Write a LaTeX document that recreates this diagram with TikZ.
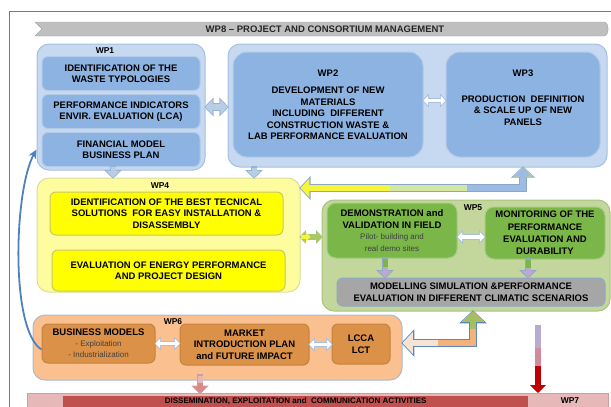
\documentclass[tikz,border=0pt]{standalone}
\usepackage{fontspec}
\setmainfont{Liberation Sans}
\usetikzlibrary{arrows.meta,positioning,calc}

\definecolor{frameblue}{HTML}{4F81BD}
\definecolor{bannergray}{HTML}{BFBFBF}
\definecolor{bannerline}{HTML}{A6A6A6}
\definecolor{paleblue}{HTML}{C6D9F1}
\definecolor{paleblueline}{HTML}{A7C0E0}
\definecolor{midblue}{HTML}{8DB3E2}
\definecolor{midblueline}{HTML}{B3CAE8}
\definecolor{paleyellow}{HTML}{FDFDA0}
\definecolor{paleyellowline}{HTML}{DCDC9C}
\definecolor{brightyellow}{HTML}{FFFF00}
\definecolor{brightyellowline}{HTML}{C8C864}
\definecolor{olivegreen}{HTML}{C3D69B}
\definecolor{olivegreenline}{HTML}{A9C47F}
\definecolor{leafgreen}{HTML}{7AB648}
\definecolor{leafgreenline}{HTML}{A3CB84}
\definecolor{boxgray}{HTML}{A6A6A6}
\definecolor{boxgrayline}{HTML}{8EA9C8}
\definecolor{paleorange}{HTML}{FAC090}
\definecolor{paleorangeline}{HTML}{A9BAD4}
\definecolor{darkorange}{HTML}{DC9148}
\definecolor{darkorangeline}{HTML}{C3823F}
\definecolor{pinkbar}{HTML}{E6B9B8}
\definecolor{pinkbarline}{HTML}{D79A98}
\definecolor{redbar}{HTML}{C0504D}
\definecolor{arrowblue}{HTML}{B9CDE5}
\definecolor{arrowblueline}{HTML}{95B3D7}
\definecolor{hollowline}{HTML}{A9BFDC}
\definecolor{lavender}{HTML}{B9ABD0}
\definecolor{mauve}{HTML}{D08A9E}
\definecolor{darkred}{HTML}{C00000}
\definecolor{notegray}{HTML}{404040}
\definecolor{yellowarrow}{HTML}{F5F53C}
\definecolor{paleleaf}{HTML}{D3E6A4}
\definecolor{bentblue}{HTML}{9DBCE3}
\definecolor{bentline}{HTML}{8CA6C8}
\definecolor{paleorangearrow}{HTML}{F6E3D3}
\definecolor{orangearrow}{HTML}{F2B27A}
\definecolor{greenarrow}{HTML}{A4BE62}
\definecolor{bentlineB}{HTML}{5F86BC}
\definecolor{pinkarrow}{HTML}{D98A88}
\definecolor{pinkarrowline}{HTML}{CDA0A0}
\definecolor{greenyellow}{HTML}{A9CA62}

\tikzset{
  every node/.style={font=\fontsize{9.5}{11.5}\selectfont\bfseries, align=center, inner sep=1pt},
  wpgroup/.style 2 args={draw=#2, fill=#1, line width=1pt, rounded corners=12pt},
  wptask/.style 2 args={draw=#2, fill=#1, line width=1pt, rounded corners=6pt},
  wplabel/.style={font=\fontsize{8.5}{10}\selectfont\bfseries},
  fat/.style n args={3}{draw=#2, line width=#1, preaction={draw=#3, line width=#1+1.6pt, shorten <=-1.2pt, shorten >=-1.2pt}},
  fatfill/.style 2 args={draw=#2, line width=#1},
  bighead/.style={>={Triangle[length=0pt 1.6, width=0pt 3.3]}},
}
\newcommand{\subnote}[1]{{\fontsize{8}{11}\selectfont\mdseries\color{notegray}#1}}

\begin{document}
\begin{tikzpicture}[x=1pt, y=-1pt, node distance=38pt,
    >={Triangle[length=0pt 1.3, width=0pt 2.6]}]
  \useasboundingbox (0,0) rectangle (611,407);

  % frame and WP8
  \draw[frameblue, line width=1pt] (611,11) -- (9,11) -- (9,407);
  \filldraw[fill=bannergray, draw=bannerline] (35,22) -- (604,22) to[out=0, in=0] (604,36) -- (35,36) -- (42,29) -- cycle;
  \node[text=black!85] (WP8) at (325,29) {WP8 – PROJECT AND CONSORTIUM MANAGEMENT};

  % WP1
  \node[wpgroup={paleblue}{paleblueline}, minimum width=168pt, minimum height=126pt] (WP1) at (121,107) {};
  \node[wplabel] (WP1lbl) at (105,51) {WP1};
  \node[wptask={midblue}{midblueline}, minimum width=158pt, minimum height=34pt] (Waste) at (121,73.5) {IDENTIFICATION OF THE\\WASTE TYPOLOGIES};
  \node[wptask={midblue}{midblueline}, minimum width=158pt, minimum height=34pt, below of=Waste] (LCA) {PERFORMANCE INDICATORS\\ENVIR. EVALUATION (LCA)};
  \node[wptask={midblue}{midblueline}, minimum width=158pt, minimum height=34pt, below of=LCA] (Finance) {FINANCIAL MODEL\\BUSINESS PLAN};

  % WP2 and WP3
  \node[wpgroup={paleblue}{paleblueline}, minimum width=379pt, minimum height=123pt] (WP23) at (417.5,105.5) {};
  \node[wptask={midblue}{midblueline}, rounded corners=14pt, minimum width=190pt, minimum height=105pt] (WP2) at (328,104.5)
    {WP2\\[6pt]DEVELOPMENT OF NEW\\MATERIALS\\INCLUDING~ DIFFERENT\\CONSTRUCTION WASTE \&\\LAB PERFORMANCE EVALUATION};
  \node[wptask={midblue}{midblueline}, rounded corners=14pt, minimum width=154pt, minimum height=105pt] (WP3) at (523,104.5)
    {WP3\\[14pt]PRODUCTION~ DEFINITION\\\& SCALE UP OF NEW\\PANELS\\[2pt]~}; % push text up

  % WP4
  \node[wpgroup={paleyellow}{paleyellowline}, minimum width=263pt, minimum height=114pt] (WP4) at (168.5,235) {};
  \node[wplabel] (WP4lbl) at (160,186) {WP4};
  \node[wptask={brightyellow}{brightyellowline}, minimum width=233pt, minimum height=43pt] (BestSol) at (166.5,213.5)
    {IDENTIFICATION OF THE BEST TECNICAL\\SOLUTIONS~ FOR EASY INSTALLATION \&\\DISASSEMBLY};
  \node[wptask={brightyellow}{brightyellowline}, minimum width=233pt, minimum height=41pt, below=14pt of BestSol, xshift=2pt] (Energy)
    {EVALUATION OF ENERGY PERFORMANCE\\AND PROJECT DESIGN};

  % WP5
  \node[wpgroup={olivegreen}{olivegreenline}, minimum width=288pt, minimum height=111pt] (WP5) at (466,255.5) {};
  \node[wplabel] (WP5lbl) at (473,208) {WP5};
  \node[wptask={leafgreen}{leafgreenline}, rounded corners=9pt, minimum width=130pt, minimum height=55pt] (Demo) at (392,230.5)
    {DEMONSTRATION and\\VALIDATION IN FIELD\\\subnote{Pilot- building and}\\\subnote{real demo sites}};
  \node[wptask={leafgreen}{leafgreenline}, rounded corners=9pt, minimum width=120pt, minimum height=52pt,
    font=\fontsize{9.5}{12.3}\selectfont\bfseries] (Monitor) at (545,233)
    {MONITORING OF THE\\PERFORMANCE\\EVALUATION AND\\DURABILITY};
  \node[wptask={boxgray}{boxgrayline}, minimum width=268pt, minimum height=28pt] (Climate) at (471,292)
    {MODELLING SIMULATION \&PERFORMANCE\\EVALUATION IN DIFFERENT CLIMATIC SCENARIOS};

  % WP6
  \node[wpgroup={paleorange}{paleorangeline}, minimum width=369pt, minimum height=65pt] (WP6) at (217.5,347.5) {};
  \node[wplabel] (WP6lbl) at (173,322) {WP6};
  \node[wptask={darkorange}{darkorangeline}, minimum width=113pt, minimum height=39pt, font=\fontsize{9.5}{11}\selectfont\bfseries] (Business) at (98.5,343.5)
    {BUSINESS MODELS\\\subnote{- Exploitation}\\\subnote{- Industrialization}};
  \node[wptask={darkorange}{darkorangeline}, minimum width=129pt, minimum height=41pt] (Market) at (244.5,344.5)
    {MARKET\\INTRODUCTION PLAN\\and FUTURE IMPACT};
  \node[wptask={darkorange}{darkorangeline}, minimum width=58pt, minimum height=40pt] (LCCA) at (361,344) {LCCA\\LCT};

  % WP7
  \node[draw=pinkbarline, fill=pinkbar, minimum width=581pt, minimum height=16pt, anchor=north west, inner sep=0pt] (WP7) at (27,393) {};
  \node[fill=redbar, minimum width=465pt, minimum height=11pt, anchor=north west, inner sep=0pt,
    font=\fontsize{8}{9}\selectfont\bfseries] (Dissem) at (63,396) {DISSEMINATION, EXPLOITATION and~ COMMUNICATION ACTIVITIES};
  \node[wplabel] (WP7lbl) at (570,401) {WP7};

  % block arrows
  \draw[<->, fat={5.5pt}{arrowblue}{arrowblueline}] (WP1.east) -- (WP1.east -| WP23.west);
  \draw[<->, fat={3.5pt}{white}{hollowline}] ([yshift=4pt]WP2.east) -- ([yshift=4pt]WP3.west);

  \coordinate (D1) at ([xshift=-8pt,yshift=4pt]WP1.south);
  \coordinate (D2) at ([xshift=-163.5pt]WP23.south);
  \draw[->, fat={5pt}{arrowblue}{arrowblueline}] (D1) -- (D1 |- WP4.north);
  \draw[->, fat={5pt}{arrowblue}{arrowblueline}] (D2) -- (D2 |- WP4.north);

  \coordinate (A4) at ([yshift=47pt]WP4.east);
  \coordinate (A3) at (WP3 |- WP23.south);
  \draw[<->, bighead, fat={5.5pt}{yellowarrow}{bentline}] (A4) -| (A3);
  \draw[->, bighead, fatfill={5.5pt}{paleleaf}] ($(A4)!0.4!(A4 -| A3)$) -| (A3);
  \draw[->, bighead, fatfill={5.5pt}{bentblue}] ($(A4)!0.75!(A4 -| A3)$) -| (A3);

  \draw[<->, fat={3.5pt}{greenyellow}{olivegreenline}] ([yshift=-2pt]WP4.east) -- ([yshift=-2pt]WP4.east -| WP5.west);
  \draw[->, fatfill={3.5pt}{yellowarrow}] ([yshift=-2pt]WP4.east) -- ([yshift=-2pt,xshift=10pt]WP4.east);
  \draw[<->, fat={3.5pt}{white}{hollowline}] ([yshift=-6.5pt]Demo.east) -- ([yshift=-6.5pt]Demo.east -| Monitor.west);

  \coordinate (C1) at ([xshift=-7pt]Demo.south);
  \coordinate (C2) at ([xshift=-17pt]Monitor.south);
  \draw[->, fat={5pt}{lavender}{boxgrayline}] (C1) -- (C1 |- Climate.north);
  \draw[fatfill={5pt}{leafgreen}] (C1) -- ($(C1)!0.45!(C1 |- Climate.north)$);
  \draw[->, fat={5pt}{lavender}{boxgrayline}] (C2) -- (C2 |- Climate.north);
  \draw[fatfill={5pt}{leafgreen}] (C2) -- ($(C2)!0.45!(C2 |- Climate.north)$);

  \draw[<->, fat={3.5pt}{white}{hollowline}] (Business.east) -- (Business.east -| Market.west);
  \draw[<->, fat={3.5pt}{white}{hollowline}] (Market.east) -- (Market.east -| LCCA.west);

  \coordinate (B6) at ([yshift=4.5pt]WP6.east);
  \coordinate (B5) at ([xshift=7pt]WP5.south);
  \draw[<->, bighead, fat={6.5pt}{paleorangearrow}{bentlineB}] (B6) -| (B5);
  \draw[->, bighead, fatfill={6.5pt}{orangearrow}] ($(B6)!0.5!(B5 |- B6)$) -| (B5);
  \draw[->, bighead, fatfill={6.5pt}{greenarrow}] ($(B5 |- B6)!0.45!(B5)$) -- (B5);

  \coordinate (R5) at ([xshift=72pt,yshift=-13pt]WP5.south);
  \draw[->, fatfill={6pt}{darkred}] (R5) -- (R5 |- WP7.north);
  \draw[fatfill={6pt}{lavender}] (R5) -- ($(R5)!0.35!(R5 |- WP7.north)$);
  \draw[fatfill={6pt}{mauve}] ($(R5)!0.35!(R5 |- WP7.north)$) -- ($(R5)!0.6!(R5 |- WP7.north)$);

  \coordinate (P6) at ([xshift=-17.5pt,yshift=5pt]WP6.south);
  \draw[->, fat={5pt}{pinkarrow}{pinkarrowline}] (P6) -- (P6 |- WP7.north);
  \draw[fatfill={5pt}{pinkbar}] (P6) -- ($(P6)!0.4!(P6 |- WP7.north)$);

  % feedback from WP6 to WP1
  \draw[frameblue, line width=1.8pt, -{Stealth[length=9pt, width=8pt]}] ([yshift=-6pt]Business.west) .. controls (10,330) and (14,190) .. (Finance -| WP1.west);
\end{tikzpicture}
\end{document}
